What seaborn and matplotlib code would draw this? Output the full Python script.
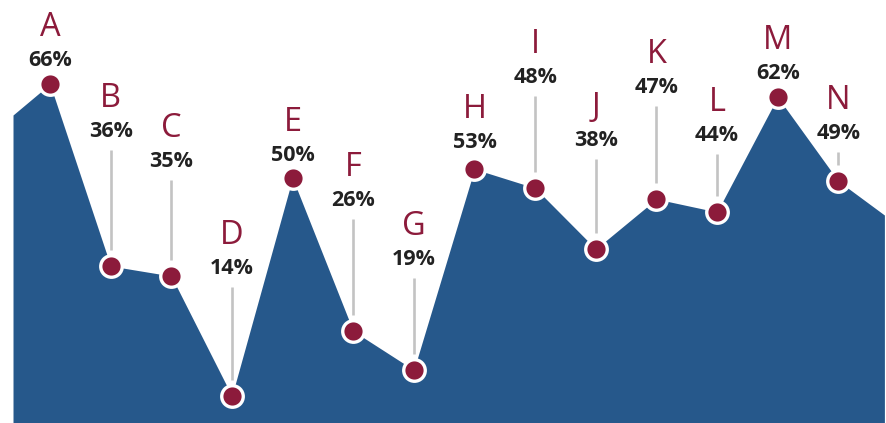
import matplotlib.pyplot as plt
import numpy as np
import seaborn as sns
import pandas as pd

# category letters and their percent labels
LETTERS = ["A", "B", "C", "D", "E", "F", "G", "H", "I", "J", "K", "L", "M", "N"]
PERCENTS = [66, 36, 35, 14, 50, 26, 19, 53, 48, 38, 47, 44, 62, 49]

# drawn height of each point (arbitrary units)
HEIGHTS = [339, 157, 147, 27, 245, 92, 53, 254, 235, 174, 224, 211, 326, 242]
# area continues past the first and last point
EDGE_X = [-0.61, 13.76]
EDGE_HEIGHTS = [308, 208]

# vertical level of the percent label for each point
LABEL_LEVELS = [363, 292, 262, 155, 268, 223, 164, 281, 346, 283, 336, 288, 350, 290]

BLUE = "#26588b"
MAROON = "#8c1b3b"
GREY = "#c3c3c3"

sns.set_theme(style="white")
plt.rcParams["font.family"] = ["Open Sans", "DejaVu Sans"]

df = pd.DataFrame({"x": np.arange(len(LETTERS)), "h": HEIGHTS,
                   "letter": LETTERS, "pct": PERCENTS, "lab": LABEL_LEVELS})

fig = plt.figure(figsize=(8.86, 4.23), dpi=100)
ax = fig.add_axes([0, 0, 1, 1])

area_x = [EDGE_X[0]] + list(df["x"]) + [EDGE_X[1]]
area_y = [EDGE_HEIGHTS[0]] + list(df["h"]) + [EDGE_HEIGHTS[1]]
ax.fill_between(area_x, 0, area_y, color=BLUE, linewidth=0, zorder=1)

# leader lines from label down to marker
for _, r in df.iterrows():
    top = r["lab"] - 19
    bottom = r["h"] + 16
    if top > bottom:
        ax.plot([r["x"], r["x"]], [bottom, top], color=GREY, lw=1.9,
                solid_capstyle="butt", zorder=2)

sns.scatterplot(data=df, x="x", y="h", s=240, color=MAROON,
                edgecolor="white", linewidth=2.4, ax=ax, zorder=4,
                legend=False)

for _, r in df.iterrows():
    ax.text(r["x"], r["lab"], f"{r['pct']}%", ha="center", va="center",
            fontsize=15.5, fontweight="bold", color="#222222", zorder=5)
    ax.text(r["x"], r["lab"] + 33, r["letter"], ha="center", va="center",
            fontsize=23.5, color=MAROON, zorder=5)

ax.set_xlim(-50 / 60.64, 836 / 60.64)
ax.set_ylim(0, 423)
ax.axis("off")

fig.savefig("out.png", dpi=100)
